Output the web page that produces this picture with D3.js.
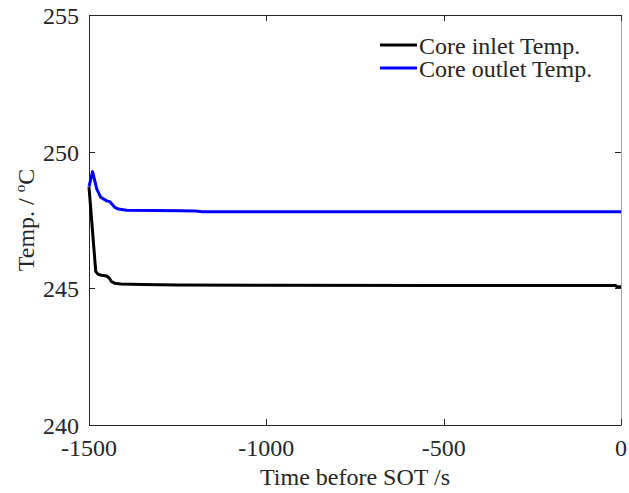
<!DOCTYPE html>
<html>
<head>
<meta charset="utf-8">
<script src="https://cdn.jsdelivr.net/npm/d3@7"></script>
<style>
  body { margin: 0; background: #fff; }
  text { font-family: "Liberation Serif", "Times New Roman", serif; fill: #262626; }
</style>
</head>
<body>
<div id="chart"></div>
<script>
// data
var inletTime = [-1500, -1481, -1475, -1465, -1450, -1443, -1437, -1428, -1410, -1350, -1250, -1000, -500, -15, -12, 0];
var inletTemp = [248.7, 245.62, 245.52, 245.48, 245.45, 245.38, 245.25, 245.19, 245.16, 245.14, 245.12, 245.11, 245.1, 245.1, 245.06, 245.06];
var outletTime = [-1500, -1490, -1478, -1467, -1450, -1441, -1427, -1417, -1394, -1243, -1200, -1180, 0];
var outletTemp = [248.72, 249.27, 248.63, 248.33, 248.2, 248.17, 247.96, 247.9, 247.86, 247.84, 247.83, 247.8, 247.8];
var xTicks = [-1500, -1000, -500, 0];
var yTicks = [240, 245, 250, 255];
var seriesNames = ["Core inlet Temp.", "Core outlet Temp."];
var seriesColors = ["#000000", "#0000ff"];

var width = 629, height = 493;
var margin = { left: 89, right: 8, top: 15, bottom: 68 };
var plotW = width - margin.left - margin.right;
var plotH = height - margin.top - margin.bottom;
var x0 = margin.left, x1 = margin.left + plotW;
var y0 = margin.top, y1 = margin.top + plotH;

var svg = d3.select('#chart')
    .append('svg')
    .attr('width', width)
    .attr('height', height);

var x = d3.scaleLinear().domain([-1500, 0]).range([x0, x1]);
var y = d3.scaleLinear().domain([240, 255]).range([y1, y0]);

var axisColor = '#262626';

// box: right edge is lighter in the original
var box = svg.append('g').attr('stroke-width', 1);
box.append('line').attr('x1', x0 + 0.5).attr('x2', x0 + 0.5).attr('y1', y0).attr('y2', y1 + 0.5).attr('stroke', axisColor);
box.append('line').attr('x1', x0).attr('x2', x1).attr('y1', y1 + 0.5).attr('y2', y1 + 0.5).attr('stroke', axisColor);
box.append('line').attr('x1', x0).attr('x2', x1).attr('y1', y0 + 0.5).attr('y2', y0 + 0.5).attr('stroke', axisColor);
box.append('line').attr('x1', x1 + 0.5).attr('x2', x1 + 0.5).attr('y1', y0).attr('y2', y1 + 1).attr('stroke', '#a8a8a8');

// inward ticks on all four sides
var tickLen = 6;
var g = svg.append('g').attr('stroke', axisColor).attr('stroke-width', 1);
xTicks.forEach(function (t) {
    var px = Math.round(x(t)) + 0.5;
    g.append('line').attr('x1', px).attr('x2', px)
        .attr('y1', y1).attr('y2', y1 - tickLen);
    g.append('line').attr('x1', px).attr('x2', px)
        .attr('y1', y0).attr('y2', y0 + tickLen);
});
yTicks.forEach(function (t) {
    var py = Math.round(y(t)) + 0.5;
    g.append('line').attr('x1', x0).attr('x2', x0 + tickLen)
        .attr('y1', py).attr('y2', py);
    g.append('line').attr('x1', x1).attr('x2', x1 - tickLen)
        .attr('y1', py).attr('y2', py);
});

// tick labels
svg.selectAll('.xlab')
    .data(xTicks)
    .enter()
    .append('text')
    .attr('class', 'xlab')
    .attr('x', function (d) { return x(d); })
    .attr('y', y1 + 31)
    .attr('text-anchor', 'middle')
    .attr('font-size', 24)
    .text(function (d) { return d; });

svg.selectAll('.ylab')
    .data(yTicks)
    .enter()
    .append('text')
    .attr('class', 'ylab')
    .attr('x', x0 - 10)
    .attr('y', function (d) { return y(d) + 9; })
    .attr('text-anchor', 'end')
    .attr('font-size', 24)
    .text(function (d) { return d; });

// axis titles
svg.append('text')
    .attr('x', (x0 + x1) / 2)
    .attr('y', 485)
    .attr('text-anchor', 'middle')
    .attr('font-size', 24)
    .text('Time before SOT /s');

var yt = svg.append('text')
    .attr('transform', 'translate(34,220) rotate(-90)')
    .attr('text-anchor', 'middle')
    .attr('font-size', 24);
yt.append('tspan').text('Temp. / ');
yt.append('tspan').attr('font-size', 15).attr('dy', -9).text('o');
yt.append('tspan').attr('dy', 9).text('C');

// lines
var line = d3.line()
    .x(function (d) { return x(d[0]); })
    .y(function (d) { return y(d[1]); });

var series = [
    d3.zip(inletTime, inletTemp),
    d3.zip(outletTime, outletTemp)
];

svg.selectAll('.series')
    .data(series)
    .enter()
    .append('path')
    .attr('class', 'series')
    .attr('d', line)
    .attr('fill', 'none')
    .attr('stroke', function (d, i) { return seriesColors[i]; })
    .attr('stroke-width', 3)
    .attr('stroke-linejoin', 'round');

// legend
var leg = svg.append('g');
seriesNames.forEach(function (name, i) {
    var ly = 45 + i * 23;
    leg.append('line')
        .attr('x1', 380).attr('x2', 417)
        .attr('y1', ly).attr('y2', ly)
        .attr('stroke', seriesColors[i])
        .attr('stroke-width', 3);
    leg.append('text')
        .attr('x', 419)
        .attr('y', ly + 9)
        .attr('font-size', 24)
        .attr('fill', '#000')
        .text(name);
});
</script>
</body>
</html>
